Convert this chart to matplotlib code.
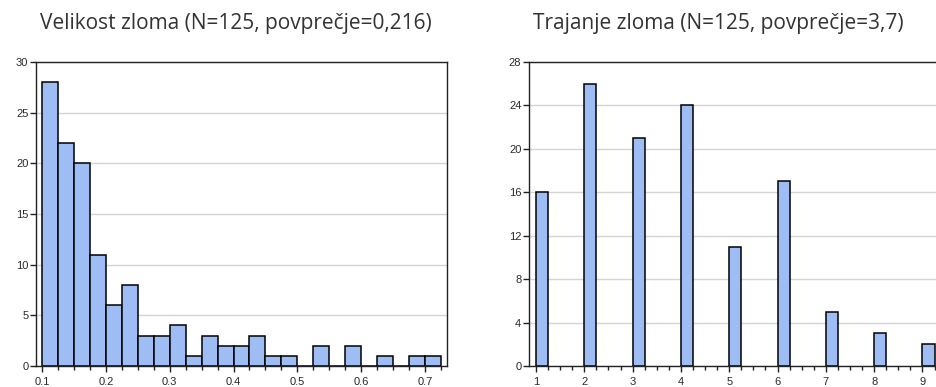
import matplotlib
matplotlib.use("Agg")
import matplotlib.pyplot as plt
from matplotlib.ticker import MultipleLocator
import numpy as np

# Histogram of break size: bin edges (width 0.025) and counts
size_edges = np.round(np.arange(0.100, 0.7251, 0.025), 3)
size_counts = [28, 22, 20, 11, 6, 8, 3, 3, 4, 1, 3, 2, 2, 3, 1, 1,
               0, 2, 0, 2, 0, 1, 0, 1, 1]

# Break duration: values and counts
dur_values = [1, 2, 3, 4, 5, 6, 7, 8, 9]
dur_counts = [16, 26, 21, 24, 11, 17, 5, 3, 2]

title_left = "Velikost zloma (N=125, povprečje=0,216)"
title_right = "Trajanje zloma (N=125, povprečje=3,7)"

bar_color = "#9dbdf4"
grid_color = "#d4d4d4"

W, H = 936, 387
fig = plt.figure(figsize=(W / 100, H / 100), dpi=100)
ax1 = fig.add_axes([36 / W, 1 - 366 / H, (447 - 36) / W, (366 - 62) / H])
ax2 = fig.add_axes([529 / W, 1 - 366 / H, 420 / W, (366 - 62) / H])


def style(ax):
    ax.set_axisbelow(True)
    ax.yaxis.grid(True, color=grid_color, linewidth=1.0)
    for s in ax.spines.values():
        s.set_linewidth(1.0)
        s.set_color("#222222")
    ax.tick_params(which="major", direction="out", length=4, width=1.0,
                   colors="#222222")
    ax.tick_params(which="minor", direction="out", length=3, width=1.0,
                   colors="#222222")
    ax.tick_params(axis="x", pad=4)
    ax.tick_params(axis="y", pad=1.5)
    for lab in ax.get_xticklabels() + ax.get_yticklabels():
        lab.set_fontfamily("Liberation Sans")
        lab.set_fontsize(8)
        lab.set_color("#2a2a2a")


# ---- left: break size ----
ax1.bar(size_edges[:-1], size_counts, width=0.025, align="edge",
        color=bar_color, edgecolor="black", linewidth=1.1)
ax1.set_xlim(0.0906, 0.7344)
ax1.set_ylim(0, 30)
ax1.xaxis.set_minor_locator(MultipleLocator(0.025))
ax1.yaxis.set_major_locator(MultipleLocator(5))
ax1.set_xticks(np.round(np.arange(0.1, 0.71, 0.1), 1))
ax1.set_xticklabels([f"{v:.1f}" for v in np.arange(0.1, 0.71, 0.1)])
style(ax1)

# ---- right: break duration ----
ax2.bar(dur_values, dur_counts, width=0.25, align="edge",
        color=bar_color, edgecolor="black", linewidth=1.1)
ax2.set_xlim(0.855, 9.55)
ax2.set_ylim(0, 28)
ax2.xaxis.set_major_locator(MultipleLocator(1))
ax2.xaxis.set_minor_locator(MultipleLocator(0.25))
ax2.yaxis.set_major_locator(MultipleLocator(4))
ax2.spines["right"].set_visible(False)
style(ax2)

fig.text(236 / W, 1 - 23 / H, title_left, ha="center", va="center",
         fontsize=15, family="Open Sans", color="#333333")
fig.text(718 / W, 1 - 23 / H, title_right, ha="center", va="center",
         fontsize=15, family="Open Sans", color="#333333")

fig.savefig("out.png", dpi=100)
